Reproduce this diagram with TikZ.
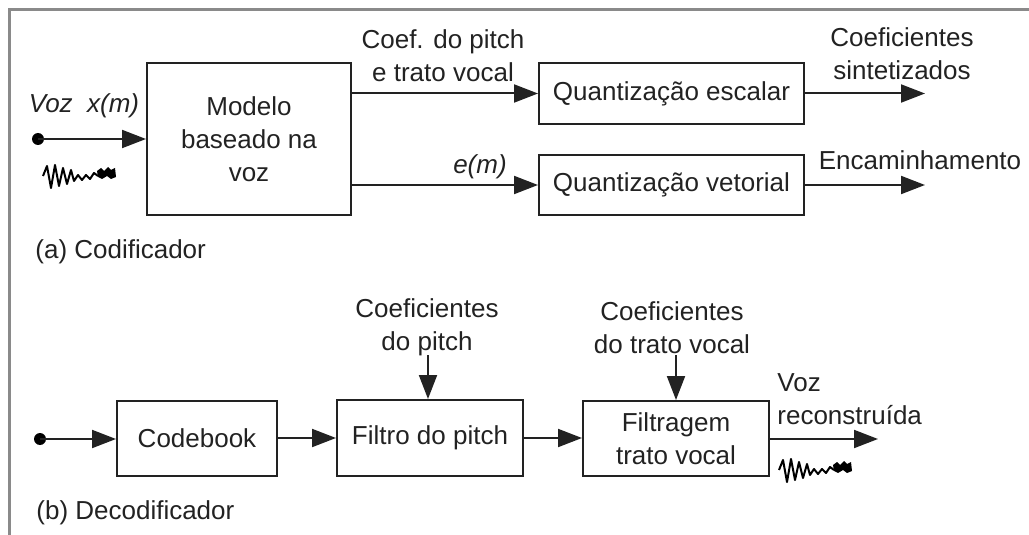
\documentclass[tikz,border=0pt]{standalone}
\usepackage{fontspec}
\setmainfont{Liberation Sans}
\usetikzlibrary{arrows.meta,calc}
\definecolor{ink}{HTML}{222222}
\definecolor{framec}{HTML}{8A8A8A}
\begin{document}
\begin{tikzpicture}[x=0.5pt,y=-0.5pt,
  every node/.style={font=\fontsize{13}{16.5}\selectfont, text=ink, inner sep=0pt},
  blk/.style={draw=ink, line width=1pt, rectangle, align=center},
  conn/.style={draw=ink, line width=1pt, -{Triangle[length=12pt,width=9pt]}},
  lbl/.style={align=center},
  wave/.style={draw=black, line width=1pt, line join=round},
  dotc/.style={circle, fill=black, minimum size=6pt}]
\useasboundingbox (0,0) rectangle (1029,535);
\draw[framec, line width=1.5pt] (1029,10) -- (9,10) -- (9,535);

% ---- (a) encoder ----
\node[blk, minimum width=102pt, minimum height=76pt] (modelo) at (249,139) {Modelo\\baseado na\\voz};
\node[blk, minimum width=132.5pt, minimum height=30.5pt] (qe) at (671.5,93.5) {Quantização escalar};
\node[blk, minimum width=132.5pt, minimum height=30pt] (qv) at (671.5,185) {Quantização vetorial};

\node[dotc] (ina) at (38,139) {};
\draw[conn] (ina.center) -- (modelo.west |- ina.center);
\node[lbl, font=\fontsize{13}{16.5}\selectfont\itshape] (vozx) at (84,106) {Voz\ \ x(m)};
\draw[wave] (43,176) -- (47,166) -- (51,188) -- (55,165) -- (59,186) -- (63,168) -- (67,184) -- (71,170) -- (74,181) -- (78,175) -- (82,180) -- (86,175) -- (90,179) -- (94,173) -- (98,176);
\fill[black] (97,171) -- (101,168) -- (104,171) -- (108,167) -- (111,170) -- (115,168) -- (116,177) -- (111,179) -- (107,176) -- (102,179) -- (98,177) -- cycle;

\draw[conn] (modelo.east |- qe.west) -- (qe.west);
\draw[conn] (modelo.east |- qv.west) -- (qv.west);
\node[lbl] (coefa) at (443,55.5) {Coef. do pitch\\e trato vocal};
\node[lbl, font=\fontsize{13}{16.5}\selectfont\itshape] (em) at (480,167) {e(m)};

\coordinate (oute) at (925,93.5);
\coordinate (outv) at (925,185);
\draw[conn] (qe.east) -- (oute);
\draw[conn] (qv.east) -- (outv);
\node[lbl] (sint) at (902,53.5) {Coeficientes\\sintetizados};
\node[lbl] (enc) at (920,160) {Encaminhamento};
\node[anchor=west] (capa) at (35,252) {(a) Codificador};

% ---- (b) decoder ----
\node[blk, minimum width=80pt, minimum height=37.5pt] (cb) at (197,438.5) {Codebook};
\node[blk, minimum width=93pt, minimum height=38pt] (fp) at (430,438) {Filtro do pitch};
\node[blk, minimum width=93pt, minimum height=37.5pt] (ft) at (676,438.5) {Filtragem\\trato vocal};

\node[dotc] (inb) at (40,439) {};
\draw[conn] (inb.center) -- (cb.west |- inb.center);
\draw[conn] (cb.east |- fp.west) -- (fp.west);
\draw[conn] (fp.east) -- (ft.west |- fp.east);

\node[lbl] (cpitch) at (427,327.5) {Coeficientes\\do pitch};
\coordinate (cpa) at (428,355);
\draw[conn] (cpa) -- (cpa |- fp.north);
\node[lbl] (ctrato) at (672,327.5) {Coeficientes\\do trato vocal};
\coordinate (cta) at (676,355);
\draw[conn] (cta) -- (cta |- ft.north);

\coordinate (outb) at (878,439);
\draw[conn] (ft.east |- outb) -- (outb);
\node[anchor=west, align=left] (vozr) at (777,399) {Voz\\reconstruída};
\draw[wave] (779,470) -- (783,460) -- (787,482) -- (791,459) -- (795,480) -- (799,462) -- (803,478) -- (807,464) -- (810,475) -- (814,469) -- (818,474) -- (822,469) -- (826,473) -- (830,467) -- (834,470);
\fill[black] (833,465) -- (837,462) -- (840,465) -- (844,461) -- (847,464) -- (851,462) -- (852,471) -- (847,473) -- (843,470) -- (838,473) -- (834,471) -- cycle;
\node[anchor=west] (capb) at (36,513) {(b) Decodificador};
\end{tikzpicture}
\end{document}
